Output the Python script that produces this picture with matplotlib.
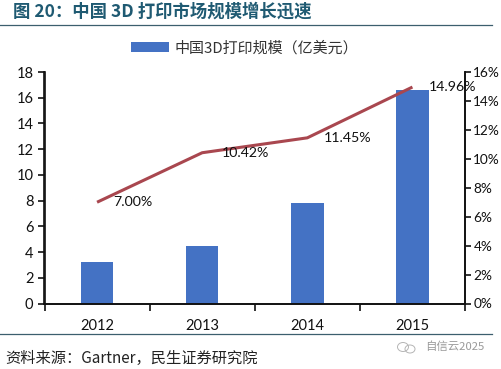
import matplotlib
matplotlib.use("Agg")
import matplotlib.pyplot as plt
from matplotlib.lines import Line2D
from matplotlib.patches import Ellipse

years = ["2012", "2013", "2014", "2015"]
market_size = [3.2, 4.5, 7.8, 16.6]
growth_pct = [7.00, 10.42, 11.45, 14.96]
growth_labels = ["7.00%", "10.42%", "11.45%", "14.96%"]
left_ticks = [0, 2, 4, 6, 8, 10, 12, 14, 16, 18]
right_ticks = [0, 2, 4, 6, 8, 10, 12, 14, 16]
title = "图 20：中国 3D 打印市场规模增长迅速"
legend_label = "中国3D打印规模（亿美元）"
source = "资料来源：Gartner，民生证券研究院"
watermark = "自信云2025"

W, H = 501, 369
CJK = ["Noto Sans CJK SC", "DejaVu Sans"]
LAT = ["Lato", "Noto Sans CJK SC", "DejaVu Sans"]
BLUE = "#4472C4"
RED = "#A9474F"
BLACK = "#111111"

fig = plt.figure(figsize=(W / 100, H / 100), dpi=100, facecolor="white")
ax = fig.add_axes([44.5 / W, 1 - 303.5 / H, (465 - 44.5) / W, (303.5 - 72) / H])
x = list(range(len(years)))
bars = ax.bar(x, market_size, width=0.31, color=BLUE, zorder=2, label=legend_label)
ax.set_xlim(-0.5, 3.5)
ax.set_ylim(0, 18)
ax.set_yticks(left_ticks)
ax.set_xticks([-0.5, 0.5, 1.5, 2.5, 3.5])
ax.set_xticklabels([])
ax.set_xticks(x, minor=True)
ax.set_xticklabels(years, minor=True, fontsize=10.5, family=LAT, color=BLACK)
ax.tick_params(axis="x", which="minor", length=0, pad=11)
ax.tick_params(axis="x", which="major", length=5, width=1.2, direction="out", color=BLACK)
ax.tick_params(axis="y", length=5, width=1.2, direction="out", color=BLACK, pad=3, labelsize=10.5, labelcolor=BLACK)
for t in ax.get_yticklabels():
    t.set_family(LAT)

ax2 = ax.twinx()
ax2.set_ylim(0, 16)
ax2.set_yticks(right_ticks)
ax2.set_yticklabels([f"{v}%" for v in right_ticks], fontsize=9.8, family=LAT, color=BLACK)
ax2.tick_params(axis="y", length=4.5, width=1.2, direction="out", color=BLACK, pad=1.5)
ax2.plot(x, growth_pct, color=RED, lw=2.2, zorder=3, solid_capstyle="butt")

label_offsets = [(26, 0), (31, 0), (29, 0), (29, 0)]
for xi, v, s, off in zip(x, growth_pct, growth_labels, label_offsets):
    ax2.annotate(s, (xi, v), xytext=off, textcoords="offset points", ha="center", va="center",
                 fontsize=10.2, family=LAT, color=BLACK, zorder=5)

for a in (ax, ax2):
    a.spines["top"].set_visible(False)
    for s in ("left", "right", "bottom"):
        a.spines[s].set_linewidth(1.2)
        a.spines[s].set_color(BLACK)

# legend
leg = fig.legend(handles=[bars], labels=[legend_label], loc="center", bbox_to_anchor=(245 / W, 1 - 48 / H),
                 frameon=False, prop={"family": CJK, "size": 10.8}, handlelength=2.5, handleheight=0.55,
                 handletextpad=0.4, borderpad=0, borderaxespad=0)
for t in leg.get_texts():
    t.set_color("#333333")

# header / footer
fig.text(13 / W, 1 - 12 / H, title, family=CJK, fontsize=12.5, fontweight="bold", color="#1F5A72", ha="left", va="center")
fig.add_artist(Line2D([0, 492 / W], [1 - 24.5 / H] * 2, color="#3C5F6E", lw=0.9))
fig.add_artist(Line2D([0, 492 / W], [1 - 334 / H] * 2, color="#3C5F6E", lw=0.9))
fig.text(5 / W, 1 - 358 / H, source, family=CJK, fontsize=11, color="#222222", ha="left", va="center")
fig.text(425 / W, 1 - 347 / H, watermark, family=CJK, fontsize=8.2, color="#9A9A9A", ha="left", va="center")
for cx, cy, w, h in [(403, 347, 11, 9), (410, 349, 10, 8)]:
    fig.add_artist(Ellipse((cx / W, 1 - cy / H), w / W, h / H, transform=fig.transFigure, fill=False, ec="#B5B5B5", lw=0.7))

fig.savefig("out.png", dpi=100)
